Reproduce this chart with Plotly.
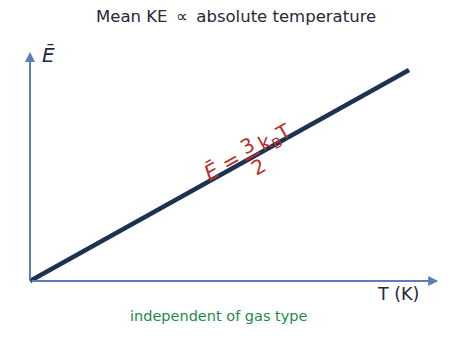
import math
import plotly.graph_objects as go

# data
T_vals = [0, 10]          # temperature (arbitrary units)
E_vals = [0, 15]          # mean KE = 3/2 kB T (arbitrary units)
x_axis_end = 10.77
y_axis_end = 16.28

W, H = 472, 344
FONT = "DejaVu Sans, sans-serif"
fig = go.Figure()
fig.add_trace(go.Scatter(x=T_vals, y=E_vals, mode="lines",
                         line=dict(color="#1b3350", width=4.5), hoverinfo="skip"))

ax_col = "#5b7db8"
red = "#b5302a"
dark = "#25283a"
ANG = -29


def px(x, y):
    return x / W, 1 - y / H


ann = []
# axis arrows
ann.append(dict(x=x_axis_end, y=0, ax=0, ay=0, xref="x", yref="y", axref="x", ayref="y",
                showarrow=True, arrowhead=2, arrowsize=1.0, arrowwidth=2, arrowcolor=ax_col, text=""))
ann.append(dict(x=0, y=y_axis_end, ax=0, ay=0, xref="x", yref="y", axref="x", ayref="y",
                showarrow=True, arrowhead=2, arrowsize=1.0, arrowwidth=2, arrowcolor=ax_col, text=""))


def txt(text, x, y, size, color, angle=0):
    xx, yy = px(x, y)
    return dict(text=text, x=xx, y=yy, xref="paper", yref="paper", showarrow=False,
                textangle=angle, font=dict(size=size, color=color, family=FONT),
                xanchor="center", yanchor="middle")


ann += [
    txt("Mean KE \u2009∝\u2009 absolute temperature", 236, 17, 16.5, dark),
    txt("<i>Ē</i>", 48, 55, 20, dark),
    txt("T (K)", 398, 294, 17.5, dark),
    txt("independent of gas type", 219, 316, 14.5, "#1e8a4a"),
    # formula pieces
    txt("<i>Ē</i> =", 222, 165, 21, red, ANG),
    txt("3", 247, 146, 20, red, ANG),
    txt("2", 258, 167, 20, red, ANG),
    txt("k<sub>B</sub>T", 275, 138, 20, red, ANG),
]

# fraction bar
c = math.cos(math.radians(29)); s = math.sin(math.radians(29))
cx, cy, hl = 252.5, 156.5, 8.5
x0, y0 = px(cx - hl * c, cy + hl * s)
x1, y1 = px(cx + hl * c, cy - hl * s)
shapes = [dict(type="line", xref="paper", yref="paper", x0=x0, y0=y0, x1=x1, y1=y1,
               line=dict(color=red, width=1.8))]

fig.update_layout(
    width=W, height=H, margin=dict(l=0, r=0, t=0, b=0),
    paper_bgcolor="white", plot_bgcolor="white", showlegend=False,
    xaxis=dict(range=[-0.7916, 11.662], visible=False, fixedrange=True),
    yaxis=dict(range=[-4.479, 19.976], visible=False, fixedrange=True),
    font=dict(family=FONT),
    annotations=ann, shapes=shapes,
)
fig.write_html("out.html")
